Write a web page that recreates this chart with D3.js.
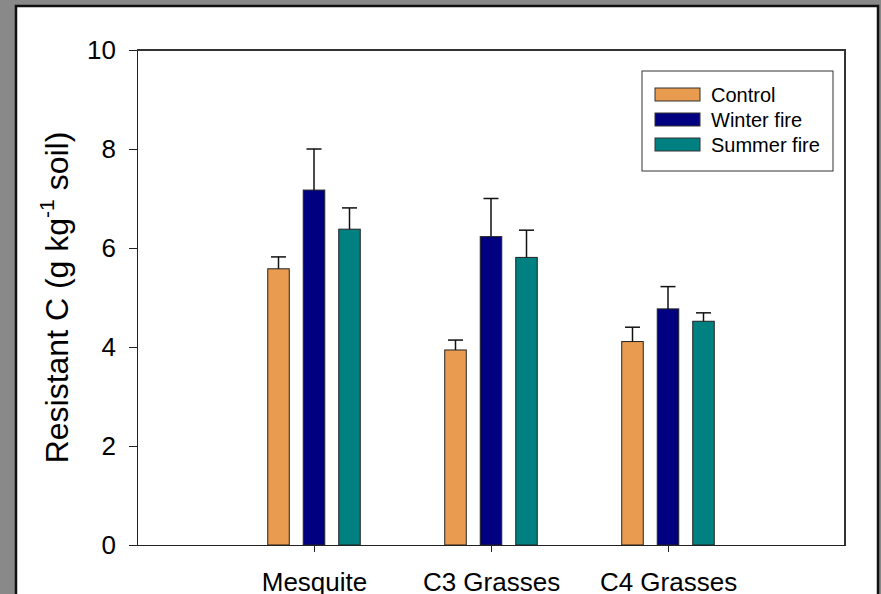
<!DOCTYPE html>
<html>
<head>
<meta charset="utf-8">
<script src="https://cdn.jsdelivr.net/npm/d3@7"></script>
<style>
  body { margin: 0; background: #898989; }
  svg { display: block; font-family: "Liberation Sans", Arial, sans-serif; }
  .axis path, .axis line { stroke: #222; stroke-width: 1.2; shape-rendering: crispEdges; }
  .axis text { font-size: 26px; fill: #000; }
</style>
</head>
<body>
<div class="chart"></div>
<script>
var categories = ["Mesquite", "C3 Grasses", "C4 Grasses"];
var seriesNames = ["Control", "Winter fire", "Summer fire"];
var seriesColors = ["#E99C50", "#000080", "#008080"];

var control = [5.58, 3.94, 4.11];
var controlErr = [0.24, 0.20, 0.29];
var winterFire = [7.17, 6.23, 4.77];
var winterFireErr = [0.83, 0.77, 0.45];
var summerFire = [6.38, 5.81, 4.52];
var summerFireErr = [0.43, 0.55, 0.17];

var yTicks = [0, 2, 4, 6, 8, 10];

var svgWidth = 881;
var svgHeight = 594;
var margin = { top: 50, right: 36, bottom: 49, left: 137 };
var width = svgWidth - margin.left - margin.right;
var height = svgHeight - margin.top - margin.bottom;

var values = [control, winterFire, summerFire];
var errors = [controlErr, winterFireErr, summerFireErr];

// flatten into one row per bar
var rows = [];
categories.forEach(function(cat, i) {
  seriesNames.forEach(function(s, j) {
    rows.push({ cat: cat, i: i, series: s, j: j, value: values[j][i], err: errors[j][i] });
  });
});

var svg = d3.select(".chart")
  .append("svg")
  .attr("width", svgWidth)
  .attr("height", svgHeight);

// gray surround and white panel
svg.append("rect")
  .attr("width", svgWidth).attr("height", svgHeight)
  .attr("fill", "#898989");
svg.append("rect")
  .attr("x", 16).attr("y", 6)
  .attr("width", 862).attr("height", 600)
  .attr("fill", "#fff")
  .attr("stroke", "#111")
  .attr("stroke-width", 2.5);

var chart = svg.append("g")
  .attr("transform", "translate(" + margin.left + "," + margin.top + ")");

// categories sit at 1, 2, 3 on a 0..4 axis
var xScale = d3.scaleLinear().domain([0, 4]).range([0, width]);
var subScale = d3.scaleBand()
  .domain(seriesNames)
  .range([-53.25, 53.25])
  .paddingInner(0.394)
  .paddingOuter(0.197);
var yScale = d3.scaleLinear().domain([0, 10]).range([height, 0]);

// frame top and right
chart.append("path")
  .attr("d", "M0," + yScale(10) + "H" + width + "V" + height)
  .attr("fill", "none")
  .attr("stroke", "#333")
  .attr("stroke-width", 1.2)
  .attr("shape-rendering", "crispEdges");

// bars
chart.selectAll(".bar")
  .data(rows)
  .enter().append("rect")
    .attr("class", "bar")
    .attr("x", function(d) { return xScale(d.i + 1) + subScale(d.series); })
    .attr("y", function(d) { return yScale(d.value); })
    .attr("width", subScale.bandwidth())
    .attr("height", function(d) { return height - yScale(d.value); })
    .attr("fill", function(d) { return seriesColors[d.j]; })
    .attr("stroke", "#222")
    .attr("stroke-width", 1);

// error bars (upper only)
var capHalf = 7.5;
var errG = chart.selectAll(".err")
  .data(rows)
  .enter().append("g")
    .attr("class", "err")
    .attr("stroke", "#111")
    .attr("stroke-width", 1.5);
errG.append("line")
  .attr("x1", function(d) { return xScale(d.i + 1) + subScale(d.series) + subScale.bandwidth() / 2; })
  .attr("x2", function(d) { return xScale(d.i + 1) + subScale(d.series) + subScale.bandwidth() / 2; })
  .attr("y1", function(d) { return yScale(d.value); })
  .attr("y2", function(d) { return yScale(d.value + d.err); });
errG.append("line")
  .attr("x1", function(d) { return xScale(d.i + 1) + subScale(d.series) + subScale.bandwidth() / 2 - capHalf; })
  .attr("x2", function(d) { return xScale(d.i + 1) + subScale(d.series) + subScale.bandwidth() / 2 + capHalf; })
  .attr("y1", function(d) { return yScale(d.value + d.err); })
  .attr("y2", function(d) { return yScale(d.value + d.err); });

// axes
var leftAxis = d3.axisLeft(yScale)
  .tickValues(yTicks)
  .tickFormat(d3.format("d"))
  .tickSize(8)
  .tickSizeOuter(0)
  .tickPadding(13);
var bottomAxis = d3.axisBottom(xScale)
  .tickValues([1, 2, 3])
  .tickFormat(function(d) { return categories[d - 1]; })
  .tickSize(7)
  .tickSizeOuter(0)
  .tickPadding(21);

chart.append("g")
  .attr("class", "axis")
  .call(leftAxis);
chart.append("g")
  .attr("class", "axis")
  .attr("transform", "translate(0," + height + ")")
  .call(bottomAxis);

// y axis title with superscript
var title = svg.append("text")
  .attr("transform", "translate(68," + (margin.top + height / 2) + ") rotate(-90)")
  .attr("text-anchor", "middle")
  .attr("font-size", 32)
  .attr("fill", "#000");
title.append("tspan").text("Resistant C (g kg");
title.append("tspan").attr("font-size", 21).attr("dy", -14).text("-1");
title.append("tspan").attr("dy", 14).text(" soil)");

// legend
var legend = svg.append("g").attr("transform", "translate(642,71)");
legend.append("rect")
  .attr("width", 191).attr("height", 100)
  .attr("fill", "#fff")
  .attr("stroke", "#333")
  .attr("stroke-width", 1);
var item = legend.selectAll(".item")
  .data(seriesNames)
  .enter().append("g")
    .attr("class", "item")
    .attr("transform", function(d, i) { return "translate(0," + (17 + i * 25) + ")"; });
item.append("rect")
  .attr("x", 13).attr("width", 45).attr("height", 13)
  .attr("fill", function(d, i) { return seriesColors[i]; })
  .attr("stroke", "#333")
  .attr("stroke-width", 1);
item.append("text")
  .attr("x", 69).attr("y", 14)
  .attr("font-size", 20)
  .text(function(d) { return d; });
</script>
</body>
</html>
